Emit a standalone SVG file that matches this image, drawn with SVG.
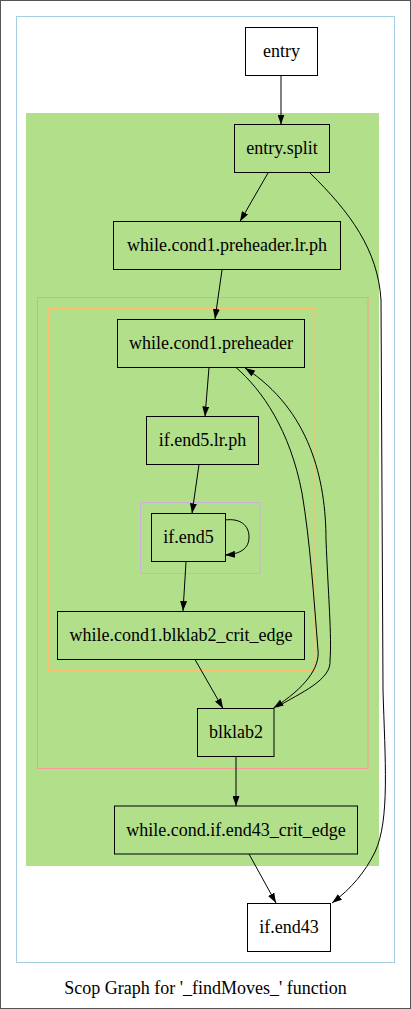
<svg xmlns="http://www.w3.org/2000/svg" width="411" height="1009" viewBox="0 0 411 1009">
<style>
.n rect{fill:none;stroke:#000;stroke-width:1}
.e path{fill:none;stroke:#000;stroke-width:1}
</style>
<defs>
<marker id="ah" viewBox="0 0 10 7" refX="10" refY="3.5" markerWidth="10" markerHeight="7" markerUnits="userSpaceOnUse" orient="auto"><path d="M0,0 L10,3.5 L0,7 z" fill="#000"/></marker>
</defs>
<rect x="0.5" y="0.5" width="410" height="1008" fill="#fff" stroke="#555"/>
<g id="clusters">
<rect x="16.5" y="16.5" width="378" height="946" fill="none" stroke="#a6cee3"/>
<rect x="26" y="113" width="353" height="753" fill="#b2df8a"/>
<rect x="37.5" y="297.5" width="330.5" height="471" fill="none" stroke="#fb9a99"/>
<rect x="48.5" y="308.5" width="266.5" height="362" fill="none" stroke="#fdbf6f"/>
<rect x="140.5" y="502.5" width="119.5" height="71" fill="none" stroke="#cab2d6"/>
</g>
<g id="edges" class="e">
<path d="M281,75 L281,124.5" marker-end="url(#ah)"/>
<path d="M268,173 L240,221.5" marker-end="url(#ah)"/>
<path d="M310,173 C350,212 378,250 381,300 L383,690 C385,760 390,820 375,852 C365,872 352,888 332,903" marker-end="url(#ah)"/>
<path d="M222,270 L215,319" marker-end="url(#ah)"/>
<path d="M209,367.5 L205,416.5" marker-end="url(#ah)"/>
<path d="M199,464.5 L192,513.5" marker-end="url(#ah)"/>
<path d="M225,520 C240,518 249,525 249,537 C249,549 240,554 225,555" marker-end="url(#ah)"/>
<path d="M186,562 L183,611" marker-end="url(#ah)"/>
<path d="M195,659.5 L223,708.5" marker-end="url(#ah)"/>
<path d="M236,367.5 C262,390 290,430 302,493 C310,540 314,600 318,650 C320,668 305,688 273.5,708" marker-end="url(#ah)"/>
<path d="M277,707 C300,693 332,680 330,660 C332,640 328,590 326,540 C326,480 310,410 245,368" marker-end="url(#ah)"/>
<path d="M236,757 L236,806" marker-end="url(#ah)"/>
<path d="M249,854 L276,903" marker-end="url(#ah)"/>
</g>
<g font-family="Liberation Serif, Times New Roman, Times, DejaVu Serif, serif" font-size="18" text-anchor="middle" fill="#000">
<g id="entry" class="n"><rect x="245.5" y="27.5" width="72" height="48"/><text x="281.5" y="57">entry</text></g>
<g id="entry_split" class="n"><rect x="234.5" y="124.5" width="95" height="48"/><text x="282" y="154">entry.split</text></g>
<g id="while_cond1_preheader_lr_ph" class="n"><rect x="113.5" y="221.5" width="227" height="48"/><text x="227" y="251">while.cond1.preheader.lr.ph</text></g>
<g id="while_cond1_preheader" class="n"><rect x="117.5" y="319.5" width="187" height="48"/><text x="211" y="349">while.cond1.preheader</text></g>
<g id="if_end5_lr_ph" class="n"><rect x="146.5" y="416.5" width="112" height="48"/><text x="202.5" y="446">if.end5.lr.ph</text></g>
<g id="if_end5" class="n"><rect x="151.5" y="513.5" width="74" height="48"/><text x="188.5" y="543">if.end5</text></g>
<g id="while_cond1_blklab2_crit_edge" class="n"><rect x="57.5" y="611.5" width="247" height="48"/><text x="181" y="641">while.cond1.blklab2_crit_edge</text></g>
<g id="blklab2" class="n"><rect x="197.5" y="708.5" width="76.5" height="48"/><text x="236" y="738">blklab2</text></g>
<g id="while_cond_if_end43_crit_edge" class="n"><rect x="114.5" y="806" width="243" height="48"/><text x="236" y="836">while.cond.if.end43_crit_edge</text></g>
<g id="if_end43" class="n"><rect x="247.5" y="903.5" width="83" height="48"/><text x="289" y="933">if.end43</text></g>
<text x="205.5" y="994">Scop Graph for '_findMoves_' function</text>
</g>
</svg>
